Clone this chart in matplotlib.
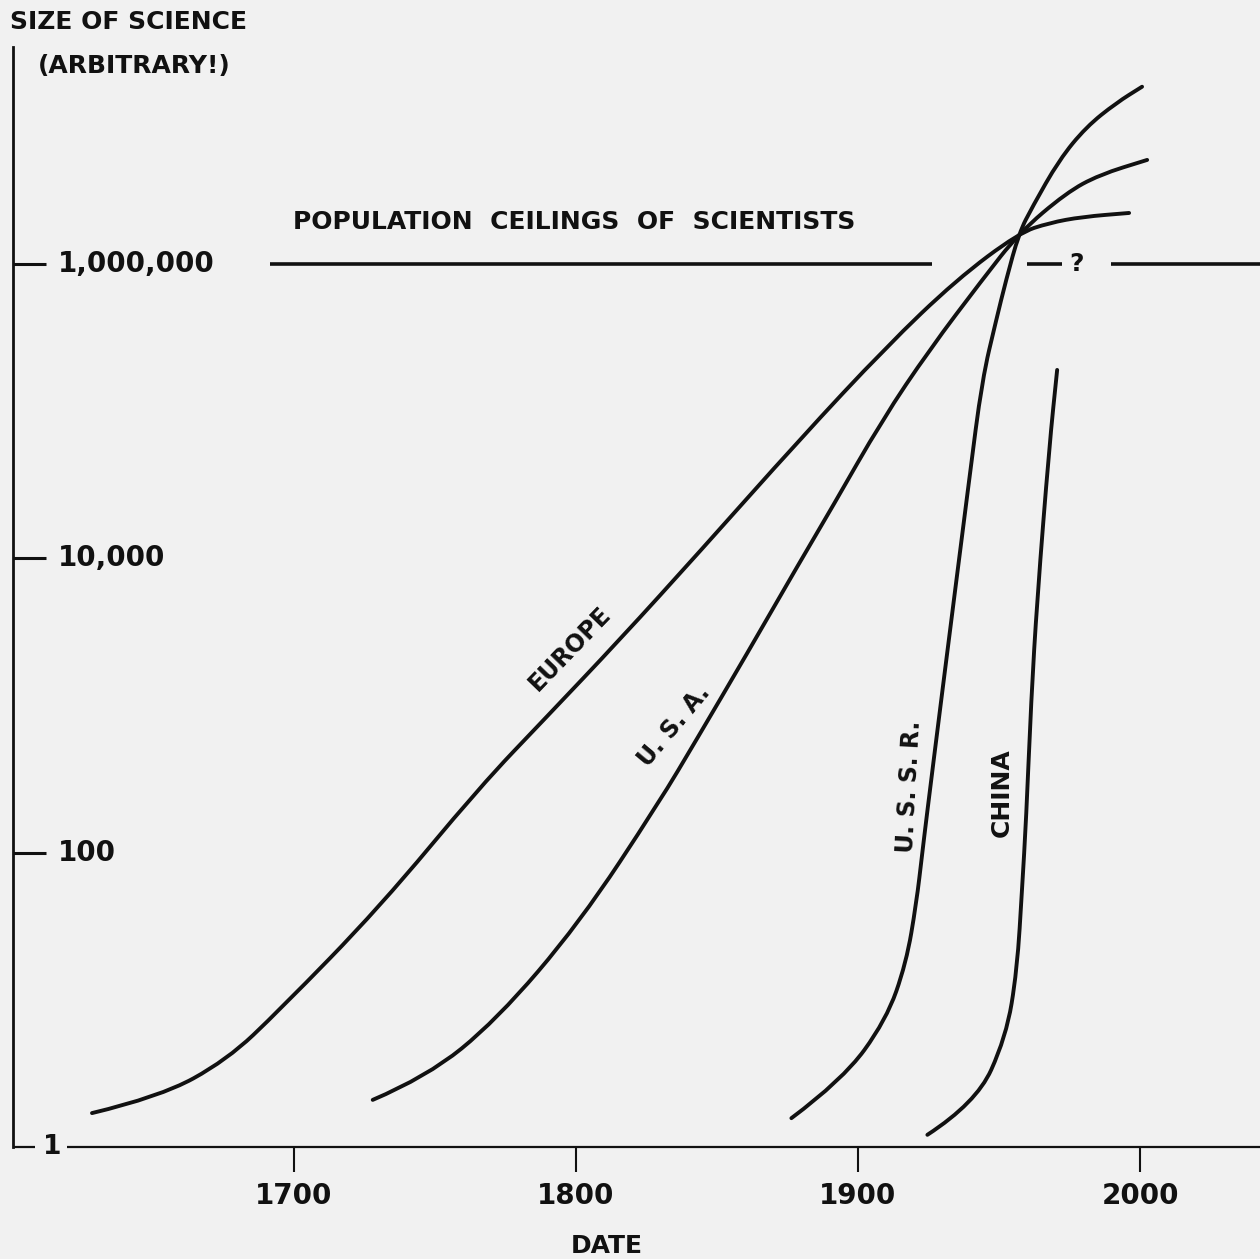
import matplotlib
matplotlib.use("Agg")
import matplotlib.pyplot as plt
from matplotlib.path import Path
from matplotlib.patches import PathPatch

# ---------------- data ----------------
europe_years = [1628.5, 1652.5, 1676.3, 1695.0, 1730.5, 1765.9, 1789.6, 1815.5,
                1843.8, 1879.2, 1910.0, 1934.8, 1957.1, 1967.8, 1979.5, 1996.1]
europe_size = [1.70, 2.19, 3.90, 8.53, 42.7, 279, 835, 2790,
               11040, 63700, 273000, 778000, 1625000, 1900000, 2090000, 2220000]

usa_years = [1728.0, 1747.1, 1771.9, 1801.3, 1829.6, 1842.7, 1860.4, 1879.2,
             1890.9, 1908.6, 1925.3, 1944.0, 1957.1, 1973.8, 1985.5, 2002.5]
usa_size = [2.09, 2.99, 7.29, 33.3, 221, 583, 2203, 9290,
            22300, 87100, 260500, 778000, 1625000, 3040000, 4030000, 5090000]

ussr_years = [1876.4, 1894.5, 1910.0, 1917.1, 1920.7, 1922.8, 1924.2, 1929.5,
              1939.4, 1944.0, 1949.0, 1952.5, 1957.1, 1961.8, 1971.3,
              1980.9, 1991.5, 2000.7]
ussr_size = [1.57, 2.85, 7.29, 17.8, 45.5, 99.5, 167, 1090,
             34000, 163000, 416000, 778000, 1625000, 2440000, 5090000,
             8530000, 12400000, 16000000]

china_years = [1924.6, 1941.9, 1952.5, 1956.4, 1958.2, 1959.6, 1961.4, 1963.5,
               1967.8, 1970.6]
china_size = [1.21, 1.99, 5.59, 15.9, 58.4, 167, 1090, 5210, 57100, 190500]

series_names = ["EUROPE", "U. S. A.", "U. S. S. R.", "CHINA"]

ceiling_value = 1_000_000
ceiling_segments = [(1691.5, 1926.3), (1960.0, 1972.4), (1989.7, 2045.0)]

ytick_values = [100, 10_000, 1_000_000]
ytick_labels = ["100", "10,000", "1,000,000"]
xtick_values = [1700, 1800, 1900, 2000]
xtick_labels = ["1700", "1800", "1900", "2000"]

# ---------------- figure ----------------
BG = "#f1f1f1"
INK = "#111111"
FONT = "DejaVu Sans"

fig = plt.figure(figsize=(12.6, 12.59), dpi=100, facecolor=BG)
ax_left = 13 / 1260
ax = fig.add_axes([ax_left, 112 / 1259, 1 - ax_left, (1147 - 47) / 1259])
ax.set_facecolor(BG)
ax.set_yscale("log")
ax.set_xlim(1600.5, 2042.5)
ax.set_ylim(1, 10 ** 7.474)

for s in ("top", "right", "bottom"):
    ax.spines[s].set_visible(False)
ax.spines["left"].set_linewidth(2.0)
ax.spines["left"].set_color(INK)


def smooth_curve(xs, ys):
    """Draw the read points as a smooth quadratic-Bezier path (points are
    used as control points, the library transforms them to the log axes)."""
    verts = [(xs[0], ys[0])]
    codes = [Path.MOVETO]
    n = len(xs)
    for i in range(1, n - 1):
        mx = (xs[i] + xs[i + 1]) / 2
        my = (ys[i] * ys[i + 1]) ** 0.5
        verts += [(xs[i], ys[i]), (mx, my)]
        codes += [Path.CURVE3, Path.CURVE3]
    verts.append((xs[-1], ys[-1]))
    codes.append(Path.LINETO)
    return Path(verts, codes)


lw = 2.8
for yrs, vals in [(europe_years, europe_size), (usa_years, usa_size),
                  (ussr_years, ussr_size), (china_years, china_size)]:
    patch = PathPatch(smooth_curve(yrs, vals), facecolor="none",
                      edgecolor=INK, lw=lw, capstyle="round",
                      joinstyle="round")
    ax.add_patch(patch)

# population ceiling (broken line with "?")
for a, b in ceiling_segments:
    ax.plot([a, b], [ceiling_value, ceiling_value], color=INK, lw=2.6,
            solid_capstyle="butt", clip_on=False)
ax.text(1977.3, ceiling_value, "?", ha="center", va="center", fontsize=18,
        fontweight="bold", family=FONT, color=INK)
ax.text(1799.5, 1.93e6, "POPULATION  CEILINGS  OF  SCIENTISTS", ha="center",
        va="center", fontsize=18, fontweight="bold", family=FONT, color=INK)

# bottom axis with a gap for the "1" label
ax.plot([1600.5, 1608.3], [1, 1], color=INK, lw=1.6, clip_on=False,
        solid_capstyle="butt")
ax.plot([1619.6, 2045], [1, 1], color=INK, lw=1.6, clip_on=False,
        solid_capstyle="butt")
ax.text(1614.3, 1, "1", ha="center", va="center", fontsize=19,
        fontweight="bold", family=FONT, color=INK)

# y ticks (inward) with labels inside the axes
ax.set_yticks(ytick_values)
ax.set_yticklabels([])
ax.minorticks_off()
ax.tick_params(axis="y", direction="in", length=24, width=2.2, color=INK)
ytrans = ax.get_yaxis_transform()
lab_x = (58 / 1260 - ax_left) / (1 - ax_left)
for v, lab in zip(ytick_values, ytick_labels):
    ax.text(lab_x, v, lab, transform=ytrans, ha="left", va="center",
            fontsize=20, fontweight="bold", family=FONT, color=INK)

# x ticks (outward)
ax.set_xticks(xtick_values)
ax.set_xticklabels(xtick_labels, fontsize=20, fontweight="bold",
                   family=FONT, color=INK)
ax.tick_params(axis="x", direction="out", length=18, width=1.5, color=INK,
               pad=7)

fig.text(607 / 1260, 1 - 1246 / 1259, "DATE", ha="center", va="center",
         fontsize=18, fontweight="bold", family=FONT, color=INK)

# axis title
fig.text(10 / 1260, 1 - 22 / 1259, "SIZE OF SCIENCE", ha="left", va="center",
         fontsize=18, fontweight="bold", family=FONT, color=INK)
fig.text(38 / 1260, 1 - 66 / 1259, "(ARBITRARY!)", ha="left", va="center",
         fontsize=18, fontweight="bold", family=FONT, color=INK)

# curve labels
lab_kw = dict(ha="center", va="center", fontweight="bold",
              family=FONT, color=INK, rotation_mode="anchor")
ax.text(1798.0, 2450, series_names[0], rotation=46, fontsize=17, **lab_kw)
ax.text(1835.0, 726, series_names[1], rotation=50, fontsize=17, **lab_kw)
ax.text(1918.2, 279, series_names[2], rotation=87, fontsize=17, **lab_kw)
ax.text(1951.1, 254, series_names[3], rotation=90, fontsize=18, **lab_kw)

fig.savefig("out.png", dpi=100, facecolor=BG)
